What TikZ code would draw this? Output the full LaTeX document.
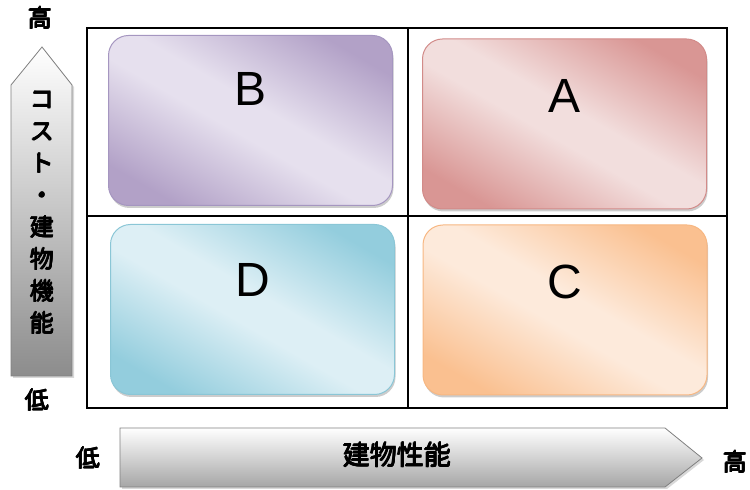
\documentclass[tikz,border=0pt]{standalone}
\usepackage{fontspec}
\setmainfont{Liberation Sans}
\newfontfamily\jpfont{Noto Sans CJK JP}
% heavy Japanese glyphs: the text overprinted with small offsets
\newcommand\heavy[1]{\leavevmode\rlap{\kern1.2pt#1}\rlap{\kern0.6pt\raise0.7pt\hbox{#1}}\rlap{\kern0.6pt\lower0.6pt\hbox{#1}}\rlap{\kern1.2pt\raise0.7pt\hbox{#1}}#1\kern1.2pt}
\usetikzlibrary{positioning,shadows}
% quadrant colours
\definecolor{Bdark}{HTML}{B2A1C7}
\definecolor{Blight}{HTML}{E6E0EE}
\definecolor{Bline}{HTML}{A596C0}
\definecolor{Adark}{HTML}{D99694}
\definecolor{Alight}{HTML}{F2DEDD}
\definecolor{Aline}{HTML}{D28B89}
\definecolor{Ddark}{HTML}{93CDDD}
\definecolor{Dlight}{HTML}{DDEFF5}
\definecolor{Dline}{HTML}{8AC6D6}
\definecolor{Cdark}{HTML}{FAC090}
\definecolor{Clight}{HTML}{FDEADB}
\definecolor{Cline}{HTML}{F7B782}
% glossy shading: dark corners, wide light band
\pgfdeclarehorizontalshading[Qdark,Qlight]{gloss}{100bp}{%
  color(0bp)=(Qdark); color(24bp)=(Qdark); color(46bp)=(Qlight);
  color(54bp)=(Qlight); color(76bp)=(Qdark); color(100bp)=(Qdark)}
\tikzset{%
  x=1pt, y=1pt,
  quad/.style={draw=#1line, line width=1pt, rounded corners=20pt,
    /utils/exec={\colorlet{Qdark}{#1dark}\colorlet{Qlight}{#1light}},
    shading=gloss, shading angle=60, minimum width=284pt, minimum height=170pt,
    drop shadow={shadow xshift=1pt, shadow yshift=-2.5pt, fill=black!40}},
  letter/.style={font=\fontsize{48}{48}\selectfont},
  axisarrow/.style={draw=black!50, line width=0.8pt, top color=white,
    bottom color=#1, drop shadow={shadow xshift=2pt, shadow yshift=-2pt, fill=black!30}},
  jp/.style={font=\jpfont\fontsize{#1}{32}\selectfont},
  jp/.default=24
}

\begin{document}
\begin{tikzpicture}
  \useasboundingbox (0,0) rectangle (750,490);
  % frame and dividers
  \coordinate (SW) at (87,82);
  \coordinate (NE) at (727,462);
  \draw[line width=1.2pt] (SW) rectangle (NE);
  \draw[line width=1.2pt] (408,82) -- (408,462);
  \draw[line width=1.2pt] (87,274) -- (727,274);
  % boxes
  \node[quad=B] (boxB) at (250.5,369.5) {};
  \node[quad=A] (boxA) at (564.5,366) {};
  \node[quad=D] (boxD) at (252.5,180.5) {};
  \node[quad=C] (boxC) at (565,180) {};
  % letters
  \node[letter] (labB) at ([yshift=-54pt]boxB.north) {B};
  \node[letter] (labA) at ([yshift=-57pt]boxA.north) {A};
  \node[letter] (labD) at ([yshift=-56pt]boxD.north) {D};
  \node[letter] (labC) at ([yshift=-57pt]boxC.north) {C};
  % vertical axis
  \path[axisarrow=black!45] (11,114) -- (72,114) -- (72,405) -- (42,443) -- (11,405) -- cycle;
  \node[jp, align=center] (ylab) at (42,277)
    {\heavy{コ}\\\heavy{ス}\\\heavy{ト}\\\heavy{・}\\\heavy{建}\\\heavy{物}\\\heavy{機}\\\heavy{能}};
  \node[jp] (yhigh) at (40,472) {\heavy{高}};
  \node[jp] (ylow) at (37,90) {\heavy{低}};
  % horizontal axis
  \path[axisarrow=black!35] (120,3) -- (665,3) -- (702,32) -- (665,62) -- (120,62) -- cycle;
  \node[jp=27] (xlab) at (397,35) {\heavy{建物性能}};
  \node[jp] (xlow) at (88,32) {\heavy{低}};
  \node[jp] (xhigh) at (735,28) {\heavy{高}};
\end{tikzpicture}
\end{document}
